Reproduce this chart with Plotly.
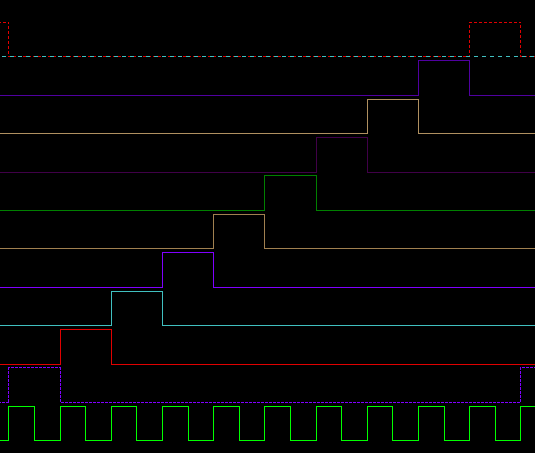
import plotly.graph_objects as go

# time axis in clock cycles
cycles = list(range(-1, 12))                      # step starts, one per cycle
half_steps = [k / 2 for k in range(-2, 24)]       # clock sampled per half cycle

# clock: high on first half of each cycle
clock = [1 if (k % 2 == 0) else 0 for k in range(-2, 24)]

# one-hot shift register channels (state per cycle, cycles -1..11)
ch1  = [0, 1, 0, 0, 0, 0, 0, 0, 0, 0, 0, 1, 1]
ch2  = [0, 0, 1, 0, 0, 0, 0, 0, 0, 0, 0, 0, 0]
ch3  = [0, 0, 0, 1, 0, 0, 0, 0, 0, 0, 0, 0, 0]
ch4  = [0, 0, 0, 0, 1, 0, 0, 0, 0, 0, 0, 0, 0]
ch5  = [0, 0, 0, 0, 0, 1, 0, 0, 0, 0, 0, 0, 0]
ch6  = [0, 0, 0, 0, 0, 0, 1, 0, 0, 0, 0, 0, 0]
ch7  = [0, 0, 0, 0, 0, 0, 0, 1, 0, 0, 0, 0, 0]
ch8  = [0, 0, 0, 0, 0, 0, 0, 0, 1, 0, 0, 0, 0]
ch9  = [0, 0, 0, 0, 0, 0, 0, 0, 0, 1, 0, 0, 0]
ch10 = [1, 0, 0, 0, 0, 0, 0, 0, 0, 0, 1, 0, 0]
ch10b = [0] * 13

AMP = 0.896

fig = go.Figure()

def add(x, vals, offset, color, dash="solid"):
    fig.add_trace(go.Scatter(
        x=x, y=[offset + AMP * v for v in vals], mode="lines",
        line=dict(color=color, width=1, shape="hv", dash=dash),
        hoverinfo="skip", showlegend=False))

add(half_steps, clock, 0, "#00ff00")
add(cycles, ch1, 1, "#8000ff", "3px,1px")
add(cycles, ch2, 2, "#e00000")
add(cycles, ch3, 3, "#40c0c0")
add(cycles, ch4, 4, "#8000ff")
add(cycles, ch5, 5, "#a08050")
add(cycles, ch6, 6, "#008000")
add(cycles, ch7, 7, "#400048")
add(cycles, ch8, 8, "#b09060")
add(cycles, ch9, 9, "#5000a0")
add(cycles, ch10, 10, "#e00000", "3px,2px")
add(cycles, ch10b, 10, "#40c0c0", "0px,4px,4px,0px")

fig.update_layout(
    width=535, height=453,
    margin=dict(l=0, r=0, t=0, b=0),
    paper_bgcolor="#000000", plot_bgcolor="#000000",
    xaxis=dict(range=[-0.17383, 10.2754], visible=False, showgrid=False, zeroline=False),
    yaxis=dict(range=[-0.31771, 11.4792], visible=False, showgrid=False, zeroline=False),
)

crisp = ("document.querySelectorAll('.scatterlayer path').forEach("
         "function(p){p.style.shapeRendering='crispEdges';});")
fig.write_html("out.html", post_script=crisp)
